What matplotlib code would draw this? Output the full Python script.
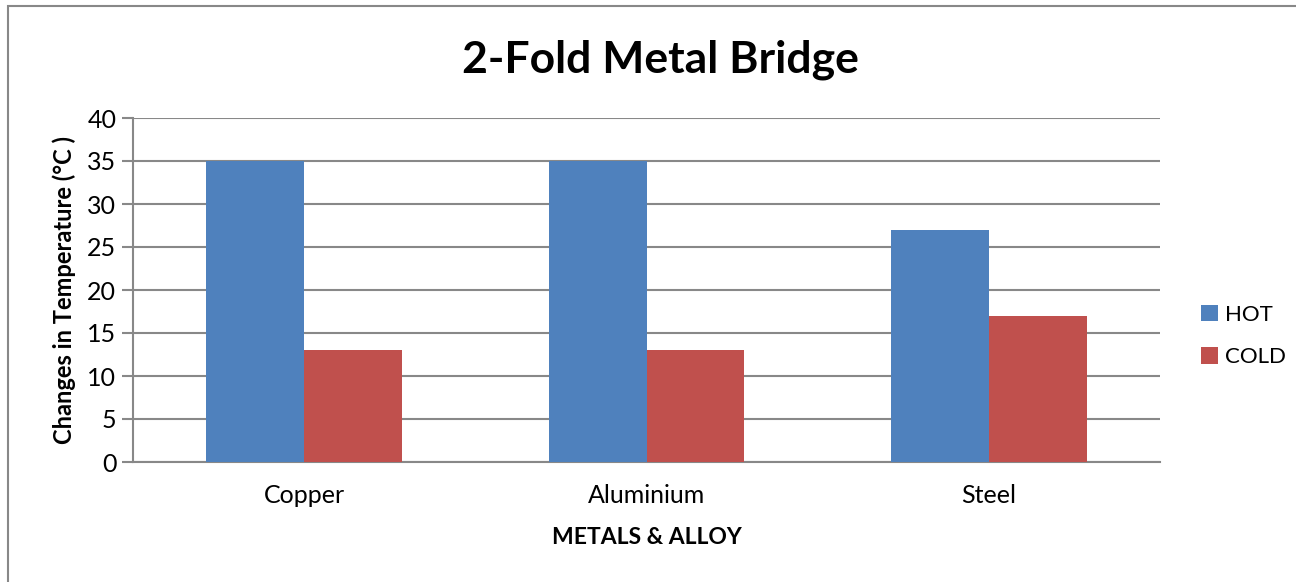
import numpy as np
import matplotlib.pyplot as plt
from matplotlib.patches import Rectangle

categories = ['Copper', 'Aluminium', 'Steel']
hot = [35, 35, 27]
cold = [13, 13, 17]
yticks = [0, 5, 10, 15, 20, 25, 30, 35, 40]

plt.rcParams['font.family'] = ['Lato', 'DejaVu Sans']

W, H = 1296, 582
fig = plt.figure(figsize=(W / 100, H / 100), dpi=100)
ax = fig.add_axes([133 / W, 1 - 462 / H, (1160 - 133) / W, (462 - 118) / H])

x = np.arange(len(categories))
bw = 0.286
ax.bar(x - bw / 2, hot, bw, color='#4f81bd', label='HOT', zorder=3)
ax.bar(x + bw / 2, cold, bw, color='#c0504d', label='COLD', zorder=3)

ax.set_xlim(-0.5, len(categories) - 0.5)
ax.set_ylim(0, 40)
ax.set_yticks(yticks)
ax.set_xticks(x)
ax.set_xticklabels(categories, fontsize=18)
ax.tick_params(axis='y', labelsize=18, length=8, width=1.5, color='#888888', pad=4)
ax.tick_params(axis='x', length=0, pad=16)
ax.grid(axis='y', color='#888888', linewidth=1.5, zorder=0)
for s in ['top', 'right']:
    ax.spines[s].set_visible(False)
for s in ['left', 'bottom']:
    ax.spines[s].set_color('#888888')
    ax.spines[s].set_linewidth(1.5)

ax.set_ylabel('Changes in Temperature (°C )', fontsize=17, fontweight='bold', labelpad=8)
ax.set_xlabel('METALS & ALLOY', fontsize=16.5, fontweight='bold', labelpad=14)

fig.text(660 / W, 1 - 60 / H, '2-Fold Metal Bridge', fontsize=32, fontweight='bold',
         ha='center', va='center')

fig.legend(loc='center left', bbox_to_anchor=(1201 / W, 1 - 336 / H), frameon=False,
           fontsize=16, handlelength=0.75, handleheight=0.75, handletextpad=0.35,
           labelspacing=1.0, borderaxespad=0, borderpad=0)

fig.add_artist(Rectangle((8 / W, -0.1), 1.2, 1 - 6 / H + 0.1, transform=fig.transFigure,
                         fill=False, edgecolor='#888888', linewidth=1.5))

fig.savefig('out.png', dpi=100)
